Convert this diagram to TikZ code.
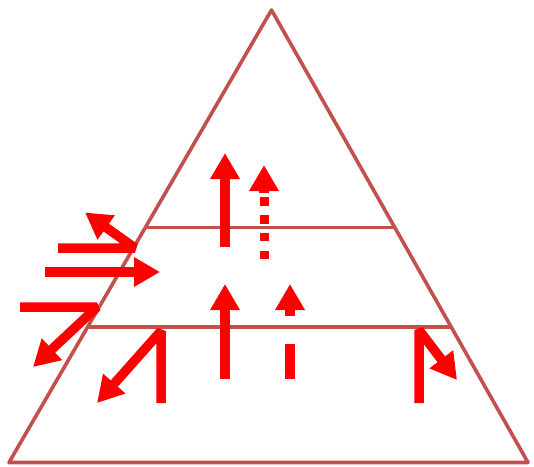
\documentclass[tikz,border=0pt]{standalone}
\usetikzlibrary{arrows.meta}
\definecolor{edgebrown}{RGB}{196,80,77}
\tikzset{
  frame/.style={draw=edgebrown, line width=3.6pt, line join=round},
  arr/.style={draw=red, line width=9.5pt, line join=bevel, -{Triangle[length=26pt,width=28pt]}},
  bar/.style={draw=red, line width=9.5pt},
  dotshaft/.style={draw=red, line width=9pt, dash pattern=on 8.3pt off 9.6pt}
}
\begin{document}
\begin{tikzpicture}[x=1pt,y=-1pt]
\useasboundingbox (0,0) rectangle (534,466);
% pyramid
\coordinate (apex) at (271.5,10);
\coordinate (bl) at (9,462.5);
\coordinate (br) at (528,462.5);
\draw[frame] (apex) -- (br) -- (bl) -- cycle;
\draw[frame] (147,227.5) -- (395,227.5);
\draw[frame] (89,327) -- (452,327);
% left arrows
\draw[arr] (58,248) -- (135,248) -- (85,212.5);
\draw[arr] (45,272) -- (160,272);
\draw[arr] (20,307) -- (97,307) -- (33,367);
\draw[arr] (161,403) -- (161,331) -- (97,403);
% central vertical arrows
\draw[arr] (225,247) -- (225,153);
\draw[dotshaft] (264,259.3) -- (264,197.3);
\draw[arr] (264,193) -- (264,165);
\draw[arr] (225,379) -- (225,284);
\draw[arr] (290,316) -- (290,284);
\draw[bar] (290,344) -- (290,379);
% right arrow
\draw[arr] (419,403) -- (419,330) -- (457,380);
\end{tikzpicture}
\end{document}
